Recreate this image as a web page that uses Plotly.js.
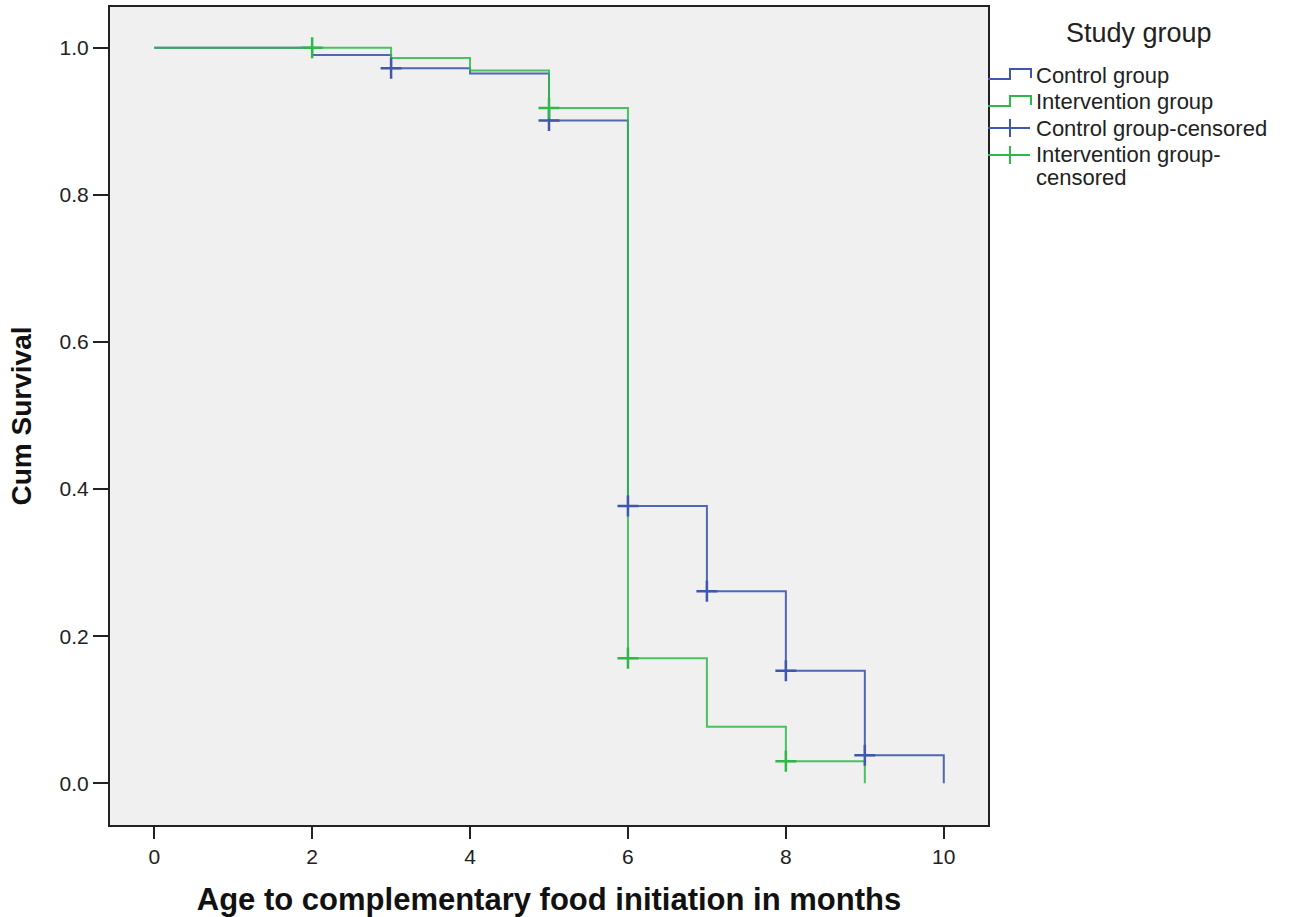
<!DOCTYPE html>
<html>
<head>
<meta charset="utf-8">
<script src="https://cdn.plot.ly/plotly-3.0.1.min.js"></script>
<style>html,body{margin:0;padding:0;background:#fff;}#chart{width:1297px;height:917px;}</style>
</head>
<body>
<div id="chart"></div>
<script>
// Kaplan-Meier step data (event times in months, cumulative survival)
const controlTimes = [0, 2, 3, 4, 5, 6, 7, 8, 9, 10];
const controlSurv  = [1.0, 0.990, 0.972, 0.965, 0.901, 0.377, 0.261, 0.153, 0.038, 0.0];
const interventionTimes = [0, 3, 4, 5, 6, 7, 8, 9];
const interventionSurv  = [1.0, 0.986, 0.969, 0.918, 0.170, 0.077, 0.030, 0.0];
// Censored observations
const controlCensTimes = [3, 5, 6, 7, 8, 9];
const controlCensSurv  = [0.972, 0.901, 0.377, 0.261, 0.153, 0.038];
const interventionCensTimes = [2, 5, 6, 8];
const interventionCensSurv  = [1.0, 0.918, 0.170, 0.030];
// Labels
const groupNames = ["Control group", "Intervention group", "Control group-censored", "Intervention group-<br>censored"];
const legendTitle = "Study group";
const xTicks = [0, 2, 4, 6, 8, 10];
const yTicks = [0.0, 0.2, 0.4, 0.6, 0.8, 1.0];

const BLUE = "#3E58AC", GREEN = "#2EB848";

const traces = [
  {x: controlTimes, y: controlSurv, mode: "lines", line: {shape: "hv", color: BLUE, width: 2}, opacity: 0.9, showlegend: false, hoverinfo: "skip"},
  {x: interventionTimes, y: interventionSurv, mode: "lines", line: {shape: "hv", color: GREEN, width: 2}, opacity: 0.85, showlegend: false, hoverinfo: "skip"},
  {x: controlCensTimes, y: controlCensSurv, mode: "markers", marker: {symbol: "cross-thin", size: 15, line: {color: BLUE, width: 2.5}}, showlegend: false, hoverinfo: "skip"},
  {x: interventionCensTimes, y: interventionCensSurv, mode: "markers", marker: {symbol: "cross-thin", size: 15, line: {color: GREEN, width: 2.5}}, showlegend: false, hoverinfo: "skip"}
];

// Plot area in pixels (for positioning the custom legend)
const L = 110, R = 988, T = 7, B = 825, W = 1297, H = 917;
const px = v => (v - L) / (R - L);
const py = v => (B - v) / (B - T);

const shapes = [];
const annotations = [];
// legend title
annotations.push({xref: "paper", yref: "paper", x: px(1139), y: py(33), text: legendTitle, showarrow: false, xanchor: "center", yanchor: "middle", font: {size: 27, color: "#222"}});
const rowY = [75, 102, 128, 155];
const colors = [BLUE, GREEN, BLUE, GREEN];
for (let i = 0; i < 4; i++) {
  const yc = rowY[i];
  const c = colors[i];
  if (i < 2) {
    const path = `M ${px(988)},${py(yc + 4)} L ${px(1010)},${py(yc + 4)} L ${px(1010)},${py(yc - 6)} L ${px(1031)},${py(yc - 6)} L ${px(1031)},${py(yc + 3)}`;
    shapes.push({type: "path", xref: "paper", yref: "paper", path: path, line: {color: c, width: 2}});
  } else {
    shapes.push({type: "line", xref: "paper", yref: "paper", x0: px(988), x1: px(1030), y0: py(yc), y1: py(yc), line: {color: c, width: 2}});
    shapes.push({type: "line", xref: "paper", yref: "paper", x0: px(1010), x1: px(1010), y0: py(yc - 9), y1: py(yc + 9), line: {color: c, width: 2}});
  }
  const lines = groupNames[i].split("<br>");
  lines.forEach((t, k) => {
    annotations.push({xref: "paper", yref: "paper", x: px(1034), y: py(yc + k * 22), text: t, showarrow: false, xanchor: "left", yanchor: "middle", align: "left", font: {size: 22, color: "#222"}});
  });
}

const layout = {
  width: W, height: H,
  margin: {l: L, r: W - R, t: T, b: H - B, pad: 0},
  paper_bgcolor: "#ffffff",
  plot_bgcolor: "#f0f0f0",
  font: {family: "Liberation Sans, Arial, sans-serif", color: "#222"},
  showlegend: false,
  xaxis: {
    range: [-0.56, 10.56], tickvals: xTicks, ticktext: xTicks.map(String),
    showgrid: false, zeroline: false, showline: true, mirror: true, linecolor: "#222", linewidth: 2,
    ticks: "outside", ticklen: 12, tickwidth: 2, tickcolor: "#222",
    tickfont: {size: 21, color: "#222"},
    title: {text: "<b>Age to complementary food initiation in months</b>", font: {size: 31, color: "#111"}, standoff: 22},
    automargin: false
  },
  yaxis: {
    range: [-0.0567, 1.0553], tickvals: yTicks, ticktext: yTicks.map(v => v.toFixed(1)),
    showgrid: false, zeroline: false, showline: true, mirror: true, linecolor: "#222", linewidth: 2,
    ticks: "outside", ticklen: 15, tickwidth: 2, tickcolor: "#222",
    tickfont: {size: 21, color: "#222"},
    title: {text: "<b>Cum Survival</b>", font: {size: 28, color: "#111"}, standoff: 20},
    automargin: false
  },
  shapes: shapes,
  annotations: annotations
};

Plotly.newPlot("chart", traces, layout, {displayModeBar: false, staticPlot: true});
</script>
</body>
</html>
